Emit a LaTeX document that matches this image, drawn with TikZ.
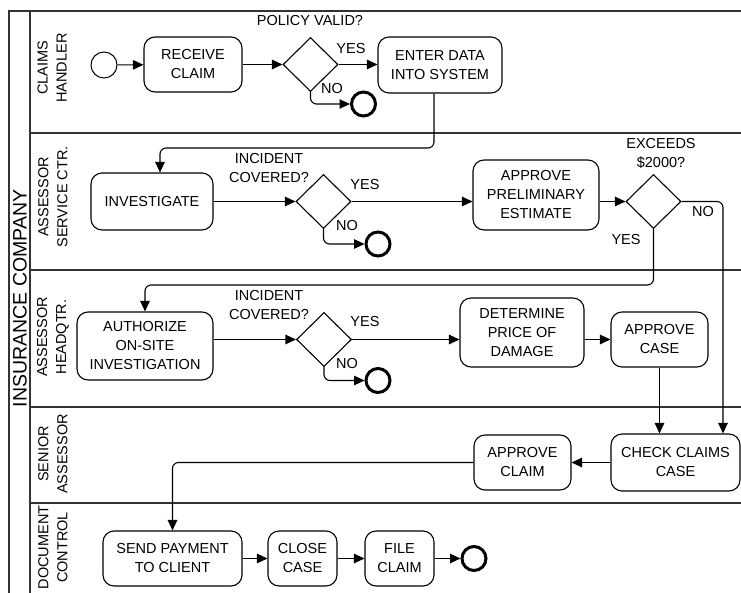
\documentclass[tikz,border=0pt]{standalone}
\usepackage{fontspec}
\setmainfont{Liberation Sans}
\usetikzlibrary{arrows.meta,shapes.geometric}
\newcommand{\tfont}{\fontsize{14.5}{19}\selectfont}
\newcommand{\bigfont}{\fontsize{19.5}{22}\selectfont}
\tikzset{
  lane/.style={line width=1.6pt, draw=black!80},
  task/.style={draw, rounded corners=11pt, line width=1.1pt, align=center, inner sep=0pt, font=\tfont},
  gate/.style={draw, diamond, line width=1.1pt, minimum width=55pt, minimum height=54pt, inner sep=0pt},
  startev/.style={draw, circle, line width=1pt, minimum size=26pt, inner sep=0pt},
  endev/.style={draw, circle, line width=3pt, minimum size=24pt, inner sep=0pt},
  lbl/.style={font=\tfont, inner sep=0pt, align=center},
  lanelbl/.style={font=\tfont, inner sep=0pt, align=center, rotate=90},
  flow/.style={line width=1.1pt, rounded corners=6pt, -{Triangle[length=10.5pt,width=9.5pt]}}
}
\begin{document}
\begin{tikzpicture}[x=1pt,y=-1pt]
\useasboundingbox (0,0) rectangle (741,593);
% pool and lanes
\draw[lane] (9,593) -- (9,11) -- (741,11);
\draw[lane] (30,11) -- (30,593);
\draw[lane] (30,133) -- (741,133);
\draw[lane] (30,270) -- (741,270);
\draw[lane] (30,407) -- (741,407);
\draw[lane] (30,503) -- (741,503);
\node[font=\bigfont, inner sep=0pt, rotate=90] (pool) at (20,298.5) {INSURANCE COMPANY};
\node[lanelbl] (l1) at (52,68) {CLAIMS\\HANDLER};
\node[lanelbl] (l2) at (53,197) {ASSESSOR\\SERVICE CTR.};
\node[lanelbl] (l3) at (53,337) {ASSESSOR\\HEADQTR.};
\node[lanelbl] (l4) at (53,454) {SENIOR\\ASSESSOR};
\node[lanelbl] (l5) at (53,547.5) {DOCUMENT\\CONTROL};

% lane 1
\node[startev] (start) at (104,65) {};
\node[task, minimum width=98pt, minimum height=55pt] (receive) at (193,64.5) {RECEIVE\\CLAIM};
\node[gate] (d1) at (310.5,64.5) {};
\node[task, minimum width=124pt, minimum height=56pt] (enter) at (440,65) {ENTER DATA\\INTO SYSTEM};
\node[endev] (end1) at (363.5,104) {};
\node[lbl] (q1) at (310,21) {POLICY VALID?};
\node[lbl] (y1) at (351,49) {YES};
\node[lbl] (n1) at (332,89) {NO};

% lane 2
\node[task, minimum width=122pt, minimum height=57pt] (inv) at (152,201.5) {INVESTIGATE};
\node[gate] (d2) at (323.5,201.5) {};
\node[endev] (end2) at (378,244) {};
\node[task, minimum width=126pt, minimum height=70pt] (ape) at (536,195) {APPROVE\\PRELIMINARY\\ESTIMATE};
\node[gate] (d3) at (653.5,201.5) {};
\node[lbl] (q2) at (269,168) {INCIDENT\\COVERED?};
\node[lbl] (y2) at (365,185) {YES};
\node[lbl] (n2) at (347,226) {NO};
\node[lbl] (q3) at (661,153.5) {EXCEEDS\\\$2000?};
\node[lbl] (n3) at (703,212) {NO};
\node[lbl] (y3) at (626,240) {YES};

% lane 3
\node[task, minimum width=136pt, minimum height=68pt] (auth) at (145,346) {AUTHORIZE\\ON-SITE\\INVESTIGATION};
\node[gate] (d4) at (324,339.5) {};
\node[endev] (end4) at (378,380.5) {};
\node[task, minimum width=124pt, minimum height=69pt] (det) at (522,332.5) {DETERMINE\\PRICE OF\\DAMAGE};
\node[task, minimum width=97pt, minimum height=55pt] (acase) at (659.5,339.5) {APPROVE\\CASE};
\node[lbl] (q4) at (269,305) {INCIDENT\\COVERED?};
\node[lbl] (y4) at (365,322) {YES};
\node[lbl] (n4) at (347,364) {NO};

% lane 4
\node[task, minimum width=129pt, minimum height=57pt] (check) at (675.5,462.5) {CHECK CLAIMS\\CASE};
\node[task, minimum width=97pt, minimum height=55pt] (aclaim) at (522.5,462.5) {APPROVE\\CLAIM};

% lane 5
\node[task, minimum width=139pt, minimum height=55pt] (send) at (172.5,558.5) {SEND PAYMENT\\TO CLIENT};
\node[task, minimum width=69pt, minimum height=55pt] (close) at (302.5,558.5) {CLOSE\\CASE};
\node[task, minimum width=69pt, minimum height=55pt] (file) at (399.5,558.5) {FILE\\CLAIM};
\node[endev] (end5) at (474,558.5) {};

% helper coordinates
\coordinate (k1) at (160,148);
\coordinate (k2) at (723,0);
\coordinate (k3) at (0,285);
\coordinate (k4) at (434,0);

% connectors
\draw[flow] (start) -- (receive);
\draw[flow] (receive) -- (d1);
\draw[flow] (d1.east) -- (d1.east -| enter.west);
\draw[flow] (d1.south) |- (end1);
\draw[flow] (k4 |- enter.south) |- (k1) -- (k1 |- inv.north);
\draw[flow] (inv.east |- d2.west) -- (d2.west);
\draw[flow] (d2.south) |- (end2);
\draw[flow] (d2.east) -- (d2.east -| ape.west);
\draw[flow] (ape.east |- d3.west) -- (d3.west);
\draw[flow] (d3.east) -| (k2 |- check.north);
\draw[flow] (d3.south) |- (auth.north |- k3) -- (auth.north);
\draw[flow] (auth.east |- d4.west) -- (d4.west);
\draw[flow] (d4.south) |- (end4);
\draw[flow] (d4.east) -- (d4.east -| det.west);
\draw[flow] (det.east |- acase.west) -- (acase.west);
\draw[flow] (acase.south) -- (acase.south |- check.north);
\draw[flow] (check.west) -- (aclaim.east);
\draw[flow] (aclaim.west) -| (send.north);
\draw[flow] (send) -- (close);
\draw[flow] (close) -- (file);
\draw[flow] (file) -- (end5);
\end{tikzpicture}
\end{document}
